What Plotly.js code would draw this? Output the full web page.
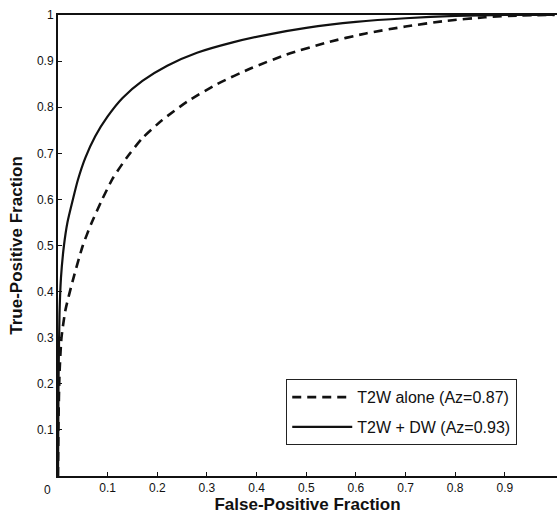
<!DOCTYPE html>
<html>
<head>
<meta charset="utf-8">
<script src="https://cdn.plot.ly/plotly-3.0.1.min.js"></script>
<style>html,body{margin:0;padding:0;background:#fff;}#chart{width:557px;height:518px;}</style>
</head>
<body>
<div id="chart"></div>
<script>
// T2W alone (Az=0.87) — dashed
const fprAlone = [0, 0.001, 0.003, 0.007, 0.015, 0.03, 0.05, 0.068, 0.089, 0.11, 0.138, 0.17, 0.21, 0.26, 0.32, 0.39, 0.46, 0.54, 0.62, 0.7, 0.78, 0.86, 0.93, 1.0];
const tprAlone = [0, 0.12, 0.22, 0.3, 0.36, 0.425, 0.5, 0.55, 0.6, 0.645, 0.69, 0.733, 0.772, 0.812, 0.85, 0.885, 0.914, 0.94, 0.96, 0.975, 0.987, 0.995, 0.999, 1.0];
// T2W + DW (Az=0.93) — solid
const fprCombined = [0, 0.001, 0.003, 0.006, 0.012, 0.019, 0.03, 0.04, 0.055, 0.075, 0.1, 0.13, 0.17, 0.22, 0.28, 0.35, 0.42, 0.5, 0.6, 0.7, 0.8, 0.9, 1.0];
const tprCombined = [0, 0.2, 0.35, 0.43, 0.5, 0.55, 0.6, 0.642, 0.69, 0.737, 0.78, 0.82, 0.857, 0.89, 0.918, 0.94, 0.957, 0.972, 0.985, 0.993, 0.998, 1.0, 1.0];

const seriesNames = ['T2W alone (Az=0.87)', 'T2W + DW (Az=0.93)'];
const xTickVals = [0.1, 0.2, 0.3, 0.4, 0.5, 0.6, 0.7, 0.8, 0.9];
const xTickText = ['0.1', '0.2', '0.3', '0.4', '0.5', '0.6', '0.7', '0.8', '0.9'];
const yTickVals = [0.1, 0.2, 0.3, 0.4, 0.5, 0.6, 0.7, 0.8, 0.9, 1];
const yTickText = ['0.1', '0.2', '0.3', '0.4', '0.5', '0.6', '0.7', '0.8', '0.9', '1'];
const originLabel = '0';
const xTitle = 'False-Positive Fraction';
const yTitle = 'True-Positive Fraction';

const FONT = 'Liberation Sans, Arial, Helvetica, sans-serif';

const traces = [
  {
    x: fprAlone, y: tprAlone, name: seriesNames[0], legendgroup: 'a', mode: 'lines', type: 'scatter',
    line: {color: '#111', width: 2.6, dash: '9px,6px', shape: 'spline', smoothing: 0.6},
    hoverinfo: 'skip'
  },
  {
    x: fprCombined, y: tprCombined, name: seriesNames[1], legendgroup: 'b', mode: 'lines', type: 'scatter',
    line: {color: '#111', width: 2.2, shape: 'spline', smoothing: 0.6},
    hoverinfo: 'skip'
  }
];

const layout = {
  width: 557, height: 518,
  margin: {l: 58, r: 0, t: 15, b: 42},
  paper_bgcolor: '#fff', plot_bgcolor: '#fff',
  font: {family: FONT, color: '#111', size: 12},
  showlegend: true,
  legend: {
    x: 0.457, y: 0.2104, xanchor: 'left', yanchor: 'top',
    bgcolor: '#fff', bordercolor: '#222', borderwidth: 1.2,
    font: {family: FONT, size: 16, color: '#111'},
    itemwidth: 60, tracegroupgap: 6
  },
  xaxis: {
    range: [0, 1.005], showgrid: false, zeroline: false,
    showline: true, linecolor: '#111', linewidth: 2, mirror: true,
    ticks: 'inside', ticklen: 4, tickwidth: 1, tickcolor: '#111',
    tickvals: xTickVals, ticktext: xTickText,
    tickfont: {family: FONT, size: 12, color: '#111'},
    title: {text: '<b>' + xTitle + '</b>', font: {family: FONT, size: 17, color: '#111'}, standoff: 2}
  },
  yaxis: {
    range: [0, 1], showgrid: false, zeroline: false,
    showline: true, linecolor: '#111', linewidth: 2, mirror: false,
    ticks: 'inside', ticklen: 4, tickwidth: 1, tickcolor: '#111',
    tickvals: yTickVals, ticktext: yTickText,
    tickfont: {family: FONT, size: 12, color: '#111'},
    title: {text: '<b>' + yTitle + '</b>', font: {family: FONT, size: 17, color: '#111'}, standoff: 10}
  },
  annotations: [
    {x: 0, y: 0, xref: 'x', yref: 'y', text: originLabel, showarrow: false,
     xshift: -11, yshift: -14, font: {family: FONT, size: 12, color: '#111'}}
  ]
};

Plotly.newPlot('chart', traces, layout, {displayModeBar: false, staticPlot: true});
</script>
</body>
</html>
